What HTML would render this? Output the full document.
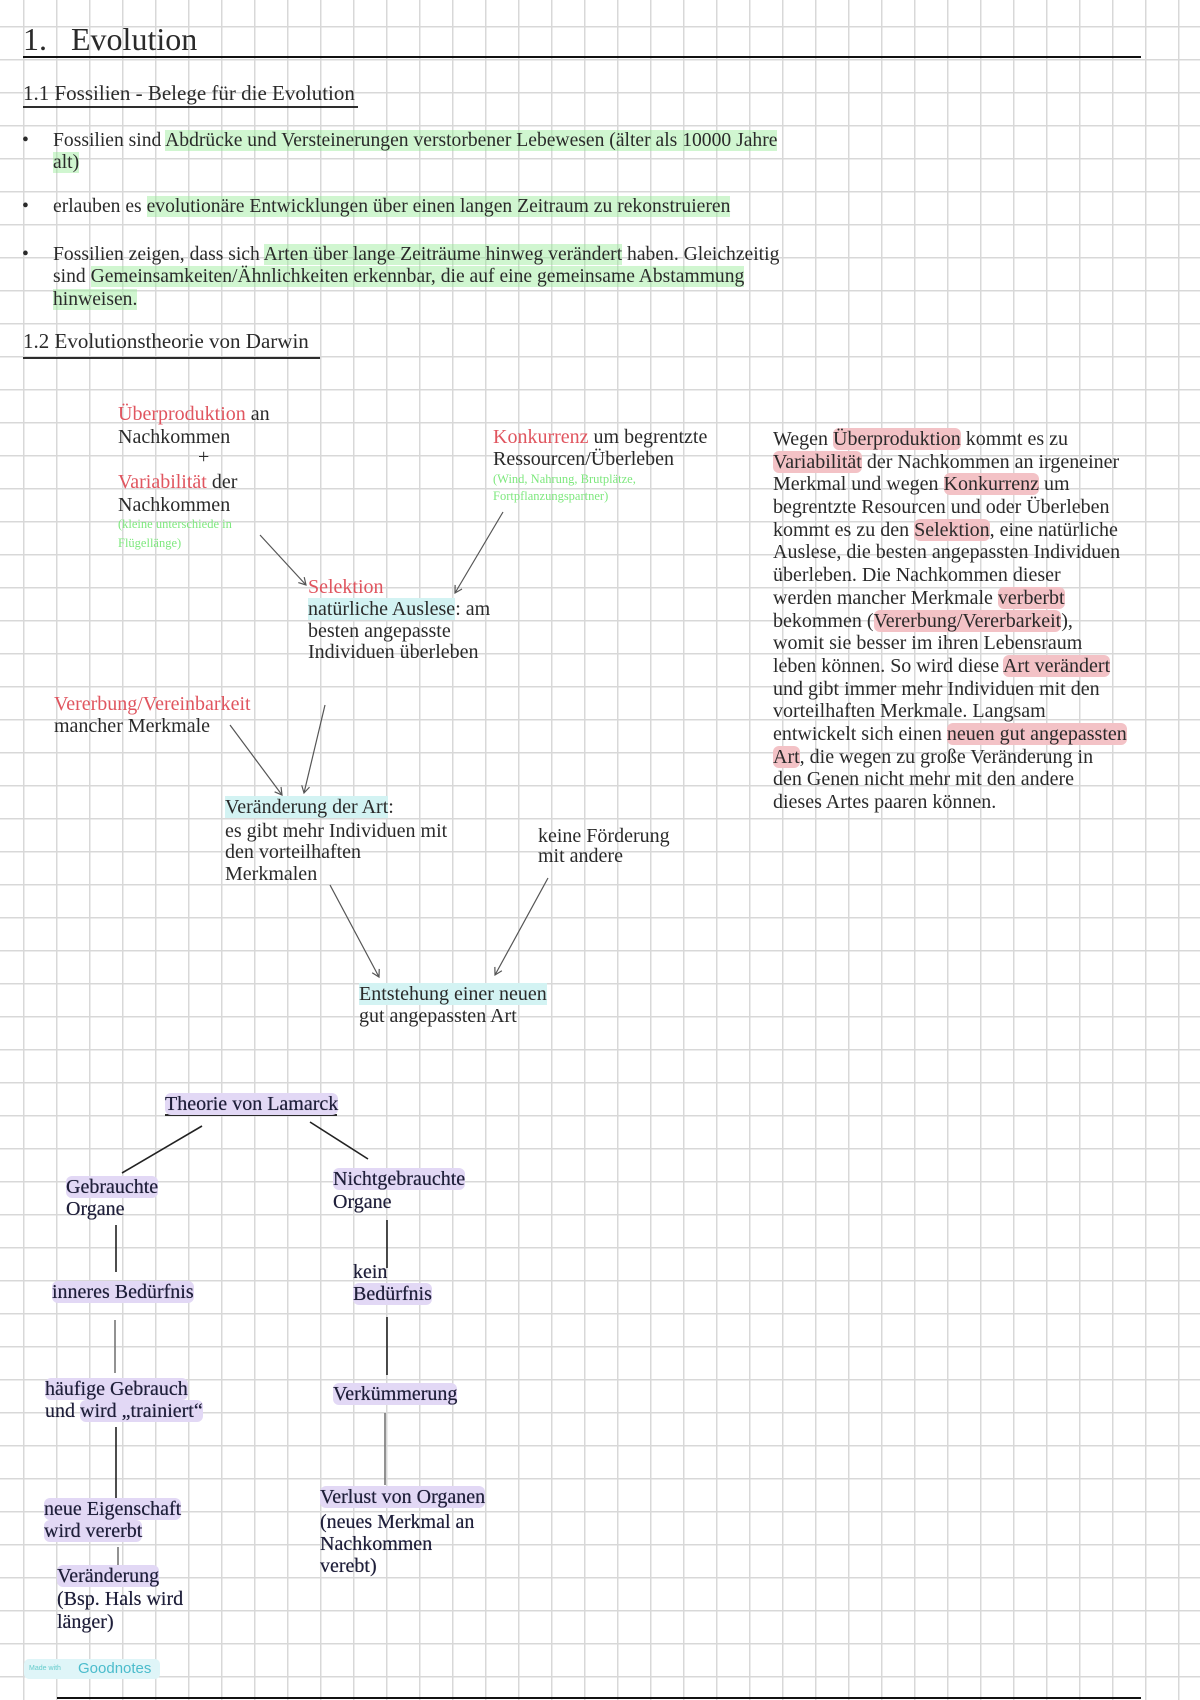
<!DOCTYPE html>
<html><head><meta charset="utf-8"><style>
html,body{margin:0;padding:0}
body{width:1200px;height:1700px;position:relative;overflow:hidden;background-color:#fff;
background-image:linear-gradient(to right,#d8d8d8 0,#d8d8d8 1.5px,transparent 1.5px),linear-gradient(to bottom,#d8d8d8 0,#d8d8d8 1.5px,transparent 1.5px);
background-size:33px 33px;background-position:23px 26px;
font-family:"Liberation Serif",serif;color:#2a2a2a}
.t{position:absolute;white-space:nowrap;font-size:19.5px;line-height:19.5px}
.b{font-size:19.6px}
.d{font-size:20px;line-height:20px}
.r{color:#e0555f}
.g{background:rgba(150,235,150,.45)}
.c{background:#d3f3f3}
.p{background:#f3c2c6;border-radius:6px}
.v{background:#e2d8f5;border-radius:6px}
.sg{color:#7ee87e;font-size:12.5px;line-height:12px}
.lm{color:#1f1f3a;font-size:20px;line-height:20px;text-shadow:0 0 .4px #1f1f3a}
svg{position:absolute;left:0;top:0}
</style></head><body>
<svg width="1200" height="1700">
<defs><marker id="a" markerWidth="10" markerHeight="10" refX="8" refY="5" orient="auto" markerUnits="userSpaceOnUse"><path d="M1,1 L8,5 L1,9" fill="none" stroke="#555" stroke-width="1.2"/></marker></defs>
<line x1="23" y1="57" x2="1141" y2="57" stroke="#111" stroke-width="2"/>
<line x1="23" y1="107" x2="358" y2="107" stroke="#111" stroke-width="1.8"/>
<line x1="23" y1="358" x2="320" y2="358" stroke="#111" stroke-width="1.8"/>
<g stroke="#555" stroke-width="1.2" fill="none" marker-end="url(#a)">
<line x1="260" y1="535" x2="306" y2="585"/>
<line x1="503" y1="512" x2="455" y2="593"/>
<line x1="325" y1="705" x2="304" y2="793"/>
<line x1="230" y1="725" x2="282" y2="795"/>
<line x1="330" y1="885" x2="379" y2="977"/>
<line x1="548" y1="878" x2="495" y2="975"/>
</g>
<line x1="165" y1="1115" x2="337" y2="1115" stroke="#111" stroke-width="1.8"/>
<g stroke="#222" stroke-width="1.6">
<line x1="202" y1="1126" x2="122" y2="1173"/>
<line x1="310" y1="1122" x2="368" y2="1159"/>
<line x1="116" y1="1225" x2="116" y2="1272"/>
<line x1="115" y1="1320" x2="115" y2="1373" stroke="#777"/>
<line x1="116" y1="1427" x2="116" y2="1502"/>
<line x1="118" y1="1547" x2="118" y2="1568" stroke="#777"/>
<line x1="387" y1="1220" x2="387" y2="1268"/>
<line x1="387" y1="1317" x2="387" y2="1375"/>
<line x1="385" y1="1413" x2="385" y2="1485" stroke="#777"/>
</g>
<line x1="57" y1="1698" x2="1141" y2="1698" stroke="#111" stroke-width="2"/>
</svg>

<div class="t" style="left:23px;top:23px;font-size:32px;line-height:32px">1.&nbsp;&nbsp; Evolution</div>
<div class="t" style="left:23px;top:83px;font-size:21px;line-height:21px">1.1 Fossilien - Belege für die Evolution</div>
<div class="t b" style="left:22px;top:131px">•</div>
<div class="t b" style="left:53px;top:131px">Fossilien sind <span class="g">Abdrücke und Versteinerungen verstorbener Lebewesen (älter als 10000 Jahre</span></div>
<div class="t b" style="left:53px;top:153px"><span class="g">alt)</span></div>
<div class="t b" style="left:22px;top:197px">•</div>
<div class="t b" style="left:53px;top:197px">erlauben es <span class="g">evolutionäre Entwicklungen über einen langen Zeitraum zu rekonstruieren</span></div>
<div class="t b" style="left:22px;top:245px">•</div>
<div class="t b" style="left:53px;top:245px">Fossilien zeigen, dass sich <span class="g">Arten über lange Zeiträume hinweg verändert</span> haben. Gleichzeitig</div>
<div class="t b" style="left:53px;top:267px">sind <span class="g">Gemeinsamkeiten/Ähnlichkeiten erkennbar, die auf eine gemeinsame Abstammung</span></div>
<div class="t b" style="left:53px;top:290px"><span class="g">hinweisen.</span></div>
<div class="t" style="left:23px;top:331px;font-size:21px;line-height:21px">1.2 Evolutionstheorie von Darwin</div>

<div class="t d" style="left:118px;top:404px"><span class="r">Überproduktion</span> an</div>
<div class="t d" style="left:118px;top:427px">Nachkommen</div>
<div class="t d" style="left:198px;top:447px">+</div>
<div class="t d" style="left:118px;top:472px"><span class="r">Variabilität</span> der</div>
<div class="t d" style="left:118px;top:495px">Nachkommen</div>
<div class="t sg" style="left:118px;top:518px">(kleine unterschiede in</div>
<div class="t sg" style="left:118px;top:537px">Flügellänge)</div>

<div class="t d" style="left:493px;top:427px"><span class="r">Konkurrenz</span> um begrentzte</div>
<div class="t d" style="left:493px;top:449px">Ressourcen/Überleben</div>
<div class="t sg" style="left:493px;top:473px">(Wind, Nahrung, Brutplätze,</div>
<div class="t sg" style="left:493px;top:490px">Fortpflanzungspartner)</div>

<div class="t d" style="left:308px;top:577px"><span class="r">Selektion</span></div>
<div class="t d" style="left:308px;top:599px"><span class="c">natürliche Auslese</span>: am</div>
<div class="t d" style="left:308px;top:621px">besten angepasste</div>
<div class="t d" style="left:308px;top:642px">Individuen überleben</div>

<div class="t d" style="left:54px;top:694px"><span class="r">Vererbung/Vereinbarkeit</span></div>
<div class="t d" style="left:54px;top:716px">mancher Merkmale</div>

<div class="t d" style="left:225px;top:797px"><span class="c">Veränderung der Art</span>:</div>
<div class="t d" style="left:225px;top:821px">es gibt mehr Individuen mit</div>
<div class="t d" style="left:225px;top:842px">den vorteilhaften</div>
<div class="t d" style="left:225px;top:864px">Merkmalen</div>
<div class="t d" style="left:538px;top:826px">keine Förderung</div>
<div class="t d" style="left:538px;top:846px">mit andere</div>
<div class="t d" style="left:359px;top:984px"><span class="c">Entstehung einer neuen</span></div>
<div class="t d" style="left:359px;top:1006px">gut angepassten Art</div>

<div class="t d" style="left:773px;top:429px">Wegen <span class="p">Überproduktion</span> kommt es zu</div>
<div class="t d" style="left:773px;top:452px"><span class="p">Variabilität</span> der Nachkommen an irgeneiner</div>
<div class="t d" style="left:773px;top:474px">Merkmal und wegen <span class="p">Konkurrenz</span> um</div>
<div class="t d" style="left:773px;top:497px">begrentzte Resourcen und oder Überleben</div>
<div class="t d" style="left:773px;top:520px">kommt es zu den <span class="p">Selektion</span>, eine natürliche</div>
<div class="t d" style="left:773px;top:542px">Auslese, die besten angepassten Individuen</div>
<div class="t d" style="left:773px;top:565px">überleben. Die Nachkommen dieser</div>
<div class="t d" style="left:773px;top:588px">werden mancher Merkmale <span class="p">verberbt</span></div>
<div class="t d" style="left:773px;top:611px">bekommen (<span class="p">Vererbung/Vererbarkeit</span>),</div>
<div class="t d" style="left:773px;top:633px">womit sie besser im ihren Lebensraum</div>
<div class="t d" style="left:773px;top:656px">leben können. So wird diese <span class="p">Art verändert</span></div>
<div class="t d" style="left:773px;top:679px">und gibt immer mehr Individuen mit den</div>
<div class="t d" style="left:773px;top:701px">vorteilhaften Merkmale. Langsam</div>
<div class="t d" style="left:773px;top:724px">entwickelt sich einen <span class="p">neuen gut angepassten</span></div>
<div class="t d" style="left:773px;top:747px"><span class="p">Art</span>, die wegen zu große Veränderung in</div>
<div class="t d" style="left:773px;top:769px">den Genen nicht mehr mit den andere</div>
<div class="t d" style="left:773px;top:792px">dieses Artes paaren können.</div>

<div class="t lm" style="left:165px;top:1094px"><span class="v">Theorie von Lamarck</span></div>
<div class="t lm" style="left:66px;top:1177px"><span class="v">Gebrauchte</span></div>
<div class="t lm" style="left:66px;top:1199px">Organe</div>
<div class="t lm" style="left:52px;top:1282px"><span class="v">inneres Bedürfnis</span></div>
<div class="t lm" style="left:45px;top:1379px"><span class="v">häufige Gebrauch</span></div>
<div class="t lm" style="left:45px;top:1401px">und <span class="v">wird „trainiert“</span></div>
<div class="t lm" style="left:44px;top:1499px"><span class="v">neue Eigenschaft</span></div>
<div class="t lm" style="left:44px;top:1521px"><span class="v">wird vererbt</span></div>
<div class="t lm" style="left:57px;top:1566px"><span class="v">Veränderung</span></div>
<div class="t lm" style="left:57px;top:1589px">(Bsp. Hals wird</div>
<div class="t lm" style="left:57px;top:1612px">länger)</div>
<div class="t lm" style="left:333px;top:1169px"><span class="v">Nichtgebrauchte</span></div>
<div class="t lm" style="left:333px;top:1192px">Organe</div>
<div class="t lm" style="left:353px;top:1262px">kein</div>
<div class="t lm" style="left:353px;top:1284px"><span class="v">Bedürfnis</span></div>
<div class="t lm" style="left:333px;top:1384px"><span class="v">Verkümmerung</span></div>
<div class="t lm" style="left:320px;top:1487px"><span class="v">Verlust von Organen</span></div>
<div class="t lm" style="left:320px;top:1512px">(neues Merkmal an</div>
<div class="t lm" style="left:320px;top:1534px">Nachkommen</div>
<div class="t lm" style="left:320px;top:1556px">verebt)</div>

<div style="position:absolute;left:24px;top:1659px;width:136px;height:20px;background:#dff5f8;border-radius:5px"></div>
<div class="t" style="left:29px;top:1663px;font-family:'Liberation Sans',sans-serif;font-size:7px;line-height:12px;color:#6cc">Made with</div>
<div class="t" style="left:78px;top:1661px;font-family:'Liberation Sans',sans-serif;font-size:15px;line-height:16px;color:#4bbccc">Goodnotes</div>
</body></html>
